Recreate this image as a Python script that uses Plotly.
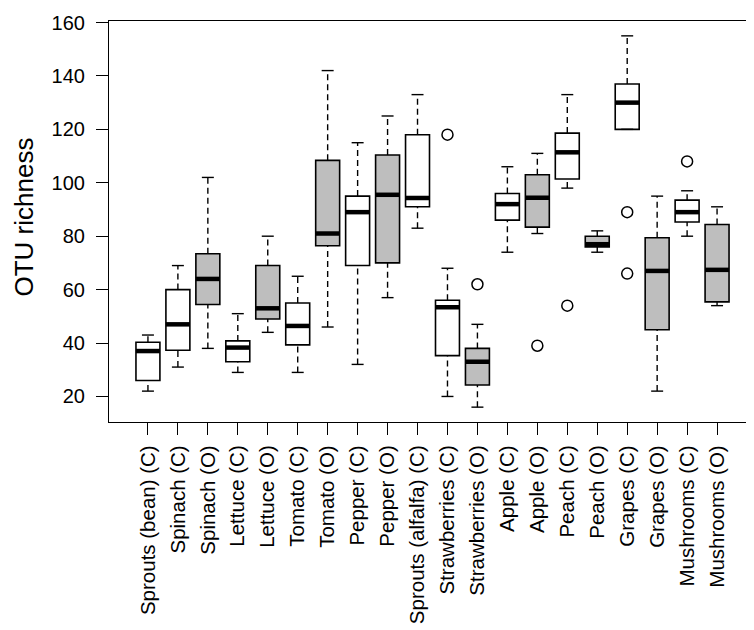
import plotly.graph_objects as go

labels = ["Sprouts (bean) (C)", "Spinach (C)", "Spinach (O)", "Lettuce (C)", "Lettuce (O)",
          "Tomato (C)", "Tomato (O)", "Pepper (C)", "Pepper (O)", "Sprouts (alfalfa) (C)",
          "Strawberries (C)", "Strawberries (O)", "Apple (C)", "Apple (O)", "Peach (C)",
          "Peach (O)", "Grapes (C)", "Grapes (O)", "Mushrooms (C)", "Mushrooms (O)"]
lower_whisker = [22, 31, 38, 29, 44, 29, 46, 32, 57, 83, 20, 16, 74, 81, 98, 74, 120, 22, 80, 54]
q1 = [26, 37.3, 54.4, 33, 49, 39.3, 76.4, 69, 70, 91, 35.3, 24.3, 86, 83.4, 101.4, 76, 120, 45, 85.3, 55.4]
median = [37, 47, 64, 38.3, 53, 46.4, 81, 89, 95.5, 94.3, 53.4, 33, 92, 94.4, 111.4, 77, 130, 67, 89, 67.4]
q3 = [40.3, 60, 73.4, 40.8, 69, 55, 108.4, 95, 110.4, 118, 56, 38, 96, 103, 118.6, 80, 137, 79.4, 93.5, 84.4]
upper_whisker = [43, 69, 102, 51, 80, 65, 142, 115, 125, 133, 68, 47, 106, 111, 133, 82, 155, 95, 97, 91]
outlier_group = [11, 12, 14, 15, 17, 17, 19]
outlier_value = [118, 62, 39, 54, 89, 66, 108]
y_ticks = [20, 40, 60, 80, 100, 120, 140, 160]
y_title = "OTU richness"

pos = list(range(1, len(labels) + 1))
organic = [lab.endswith("(O)") for lab in labels]

FONT = "Liberation Sans, Arial, Helvetica, sans-serif"
BW = 0.8
CAP = 0.2

fig = go.Figure()

# whiskers (dashed) and caps
wx, wy, cx, cy = [], [], [], []
for i, p in enumerate(pos):
    wx += [p, p, None, p, p, None]
    wy += [lower_whisker[i], q1[i], None, q3[i], upper_whisker[i], None]
    cx += [p - CAP, p + CAP, None, p - CAP, p + CAP, None]
    cy += [lower_whisker[i], lower_whisker[i], None, upper_whisker[i], upper_whisker[i], None]
fig.add_trace(go.Scatter(x=wx, y=wy, mode="lines", line=dict(color="black", width=1.4, dash="6px,4px"),
                         showlegend=False, hoverinfo="skip"))
fig.add_trace(go.Scatter(x=cx, y=cy, mode="lines", line=dict(color="black", width=1.4),
                         showlegend=False, hoverinfo="skip"))

for flag, color in [(False, "white"), (True, "#bebebe")]:
    idx = [i for i in range(len(labels)) if organic[i] == flag]
    fig.add_trace(go.Box(
        x=[pos[i] for i in idx],
        q1=[q1[i] for i in idx],
        median=[median[i] for i in idx],
        q3=[q3[i] for i in idx],
        lowerfence=[q1[i] for i in idx],
        upperfence=[q3[i] for i in idx],
        width=BW, whiskerwidth=0, fillcolor=color,
        line=dict(color="black", width=1.6), boxpoints=False, showlegend=False,
    ))

# thick medians
mx, my = [], []
for i, p in enumerate(pos):
    mx += [p - BW / 2, p + BW / 2, None]
    my += [median[i], median[i], None]
fig.add_trace(go.Scatter(x=mx, y=my, mode="lines", line=dict(color="black", width=4.5),
                         showlegend=False, hoverinfo="skip"))

fig.add_trace(go.Scatter(x=outlier_group, y=outlier_value, mode="markers",
                         marker=dict(symbol="circle-open", size=11, color="black", line=dict(width=1.5)),
                         showlegend=False))

fig.add_annotation(text=y_title, xref="paper", yref="paper", x=0, y=0.51,
                   xanchor="center", yanchor="middle", xshift=-85, textangle=-90,
                   showarrow=False, font=dict(family=FONT, size=26, color="black"))

fig.update_layout(
    width=754, height=630, autosize=False,
    margin=dict(l=101, r=6, t=13, b=216),
    plot_bgcolor="white", paper_bgcolor="white",
    font=dict(family=FONT, size=20, color="black"),
    xaxis=dict(range=[-0.3, 21.3], tickmode="array", tickvals=pos, ticktext=labels,
               tickangle=-90, ticks="outside", ticklen=12, tickwidth=1.2, tickcolor="black",
               tickfont=dict(size=20.5),
               showline=True, mirror=True, linecolor="black", linewidth=1.2,
               showgrid=False, zeroline=False, ticklabelstandoff=2, automargin=False),
    yaxis=dict(range=[10.44, 160.56], tickmode="array", tickvals=y_ticks,
               ticks="outside", ticklen=12, tickwidth=1.2, tickcolor="black",
               tickfont=dict(size=20),
               showline=True, mirror=True, linecolor="black", linewidth=1.2,
               showgrid=False, zeroline=False, ticklabelstandoff=7, automargin=False),
)

fig.write_html("out.html")
